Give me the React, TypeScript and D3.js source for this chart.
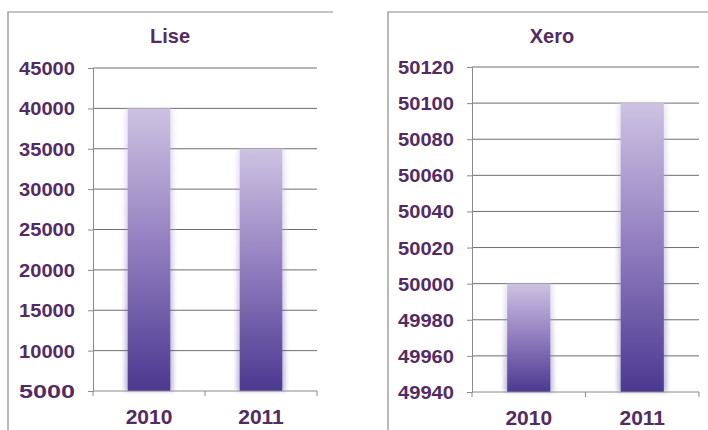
import React, { useEffect, useRef } from 'react';
import * as d3 from 'd3';

const years = ['2010', '2011'];
const liseValues = [40000, 35000];
const xeroValues = [50000, 50100];
const liseTicks = [5000, 10000, 15000, 20000, 25000, 30000, 35000, 40000, 45000];
const xeroTicks = [49940, 49960, 49980, 50000, 50020, 50040, 50060, 50080, 50100, 50120];

const textColor = '#542a64';
const gridColor = '#6e6e6e';
const borderColor = '#8a8a8a';

interface PanelOpts {
  title: string;
  values: number[];
  ticks: number[];
  boxLeft: number;
  boxRight: number;
  axisLeft: number;
  axisRight: number;
  top: number;
  bottom: number;
  titleX: number;
}

const App = () => {
  const svgRef = useRef(null);

  useEffect(() => {
    const svg = d3.select(svgRef.current);
    svg.selectAll('*').remove();

    const defs = svg.append('defs');
    const grad = defs.append('linearGradient')
      .attr('id', 'barGrad')
      .attr('x1', 0).attr('y1', 0).attr('x2', 0).attr('y2', 1);
    grad.append('stop').attr('offset', '0%').attr('stop-color', '#cdc2e2');
    grad.append('stop').attr('offset', '45%').attr('stop-color', '#9783c2');
    grad.append('stop').attr('offset', '100%').attr('stop-color', '#4a3990');

    defs.append('filter')
      .attr('id', 'glow')
      .attr('x', '-30%').attr('y', '-5%').attr('width', '160%').attr('height', '110%')
      .append('feGaussianBlur')
      .attr('stdDeviation', 2);

    const drawPanel = (o: PanelOpts) => {
      const g = svg.append('g');

      // panel border (top + left edge)
      g.append('path')
        .attr('d', `M${o.boxLeft},430 V12 H${o.boxRight}`)
        .attr('fill', 'none')
        .attr('stroke', borderColor)
        .attr('stroke-width', 1.2);

      g.append('text')
        .attr('x', o.titleX)
        .attr('y', 43)
        .attr('text-anchor', 'middle')
        .attr('font-family', 'Liberation Sans, Arial, sans-serif')
        .attr('font-weight', 'bold')
        .attr('font-size', 20)
        .attr('fill', textColor)
        .text(o.title);

      const y = d3.scaleLinear()
        .domain([o.ticks[0], o.ticks[o.ticks.length - 1]])
        .range([o.bottom, o.top]);

      const x = d3.scaleBand()
        .domain(years)
        .range([o.axisLeft, o.axisRight])
        .paddingInner(0)
        .paddingOuter(0);

      // gridlines
      g.append('g')
        .selectAll('line')
        .data(o.ticks.slice(1))
        .join('line')
        .attr('x1', o.axisLeft)
        .attr('x2', o.axisRight)
        .attr('y1', d => y(d))
        .attr('y2', d => y(d))
        .attr('stroke', gridColor)
        .attr('stroke-width', 1);

      // bars
      const bw = x.bandwidth() * 0.38;
      years.forEach((yr, i) => {
        const cx = x(yr)! + x.bandwidth() / 2;
        const yTop = y(o.values[i]);
        g.append('rect')
          .attr('x', cx - bw / 2 - 3)
          .attr('y', yTop)
          .attr('width', bw + 6)
          .attr('height', o.bottom - yTop)
          .attr('fill', 'url(#barGrad)')
          .attr('opacity', 0.35)
          .attr('filter', 'url(#glow)');
        g.append('rect')
          .attr('x', cx - bw / 2)
          .attr('y', yTop)
          .attr('width', bw)
          .attr('height', o.bottom - yTop)
          .attr('fill', 'url(#barGrad)');
      });

      // y axis
      const yAxis = g.append('g')
        .attr('transform', `translate(${o.axisLeft},0)`)
        .call(d3.axisLeft(y).tickValues(o.ticks).tickSize(5).tickFormat(d => String(d)));
      yAxis.select('.domain').attr('stroke', borderColor);
      yAxis.selectAll('.tick line').attr('stroke', borderColor);
      yAxis.selectAll('.tick text')
        .attr('x', -18)
        .attr('dy', '0.36em')
        .attr('fill', textColor)
        .attr('font-family', 'Liberation Sans, Arial, sans-serif')
        .attr('font-weight', 'bold')
        .attr('font-size', 18)
        .attr('textLength', 56)
        .attr('lengthAdjust', 'spacingAndGlyphs');

      // x axis
      const xAxisG = g.append('g')
        .attr('transform', `translate(0,${o.bottom})`);
      xAxisG.append('line')
        .attr('x1', o.axisLeft).attr('x2', o.axisRight)
        .attr('stroke', borderColor);
      const edges = [o.axisLeft, ...years.map(yr => x(yr)! + x.bandwidth())];
      xAxisG.selectAll('line.tk')
        .data(edges)
        .join('line')
        .attr('class', 'tk')
        .attr('x1', d => d).attr('x2', d => d)
        .attr('y1', 0).attr('y2', 5)
        .attr('stroke', borderColor);
      xAxisG.selectAll('text')
        .data(years)
        .join('text')
        .attr('x', d => x(d)! + x.bandwidth() / 2)
        .attr('y', 33)
        .attr('text-anchor', 'middle')
        .attr('fill', textColor)
        .attr('font-family', 'Liberation Sans, Arial, sans-serif')
        .attr('font-weight', 'bold')
        .attr('font-size', 21)
        .text(d => d);
    };

    drawPanel({
      title: 'Lise', values: liseValues, ticks: liseTicks,
      boxLeft: 8, boxRight: 333, axisLeft: 93, axisRight: 317,
      top: 68, bottom: 391, titleX: 170
    });
    drawPanel({
      title: 'Xero', values: xeroValues, ticks: xeroTicks,
      boxLeft: 388, boxRight: 708, axisLeft: 472, axisRight: 699,
      top: 67, bottom: 392, titleX: 552
    });
  }, []);

  return (
    <svg
      ref={svgRef}
      width={708}
      height={430}
      style={{ position: 'absolute', left: 0, top: 0, background: '#fff' }}
    />
  );
};

export default App;
